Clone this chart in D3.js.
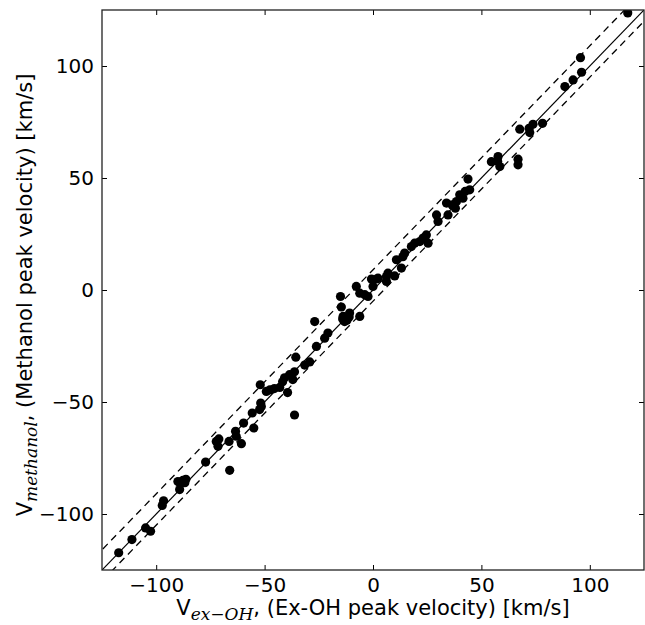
<!DOCTYPE html>
<html>
<head>
<meta charset="utf-8">
<script src="https://cdn.jsdelivr.net/npm/d3@7"></script>
<style>
  body { margin: 0; background: white; }
  text { font-family: "DejaVu Sans", sans-serif; }
</style>
</head>
<body>
<div id="viz-container"></div>
<script>
let vizWidth = 645;
let vizHeight = 625;

// Ex-OH peak velocities (km/s)
let xVals = [
  -117.3, -111.2, -104.9, -102.6, -97.2, -96.6, -90, -89.2, -87.7, -86.3, -88.8, -86.8,
  -77.2, -66.1, -72.3, -71.1, -71.5, -66.4, -63.4, -63.1, -60.7, -59.7, -55, -55.7,
  -52.3, -51.8, -52, -49.2, -51.5, -47.6, -45.5, -43, -41.7, -40.8, -38.5, -36.2,
  -37, -39.4, -35.6, -36.2, -31.5, -29.2, -26.1, -26.9, -22.3, -20.8, -15, -14.6,
  -13.8, -13.1, -12.3, -10.8, -6.1, -7.7, -6.1, -3.8, -2.3, -0.7, 1.6, 0,
  2.3, 6.2, 6.9, 6.2, 10, 10.8, 13.1, 13.8, 14.6, 17.7, 19.2, 21.6,
  24.6, 25.4, 23.1, 29.3, 30, 33.9, 34.6, 36.5, 38, 38.5, 40, 41.5,
  43.8, 44.6, 42.5, 54.6, 57.7, 58.5, 57.5, 66.9, 66.9, 67.7, 72, 72.3,
  73.8, 78.2, 88.5, 92.3, 96.2, 95.7, 117.5, -14, -12, -11
];
// methanol peak velocities (km/s)
let yVals = [
  -117.3, -111.4, -106.2, -107.7, -96.2, -94.1, -85.5, -89.1, -85, -84.5, -86.5, -86,
  -76.8, -80.5, -67.6, -66.5, -69.8, -67.6, -63.1, -65.3, -68.6, -59.4, -61.6, -54.9,
  -53.4, -50.5, -42.3, -45.3, -52, -44.6, -44, -43.5, -41, -39.2, -37.8, -36.5,
  -40, -45.8, -30, -55.8, -33.5, -32.1, -25.2, -14.1, -21.5, -19.2, -2.9, -7.6,
  -11.8, -14.1, -12.5, -10.3, -11.8, 1.6, -1.4, -2.1, -2.9, 4.9, 4.9, 1.6,
  5.3, 6, 7.5, 3.8, 6.3, 13.5, 9.8, 14.9, 16.5, 19.4, 20.9, 21.6,
  24.6, 20.9, 23.2, 33.5, 30.6, 38.8, 33.5, 38, 36.5, 39.5, 42.5, 41,
  49.5, 44.7, 44, 57.3, 59.6, 55.1, 57.5, 58.4, 55.9, 71.8, 72.2, 70.3,
  74, 74.4, 90.8, 93.8, 97.2, 103.7, 123.7, -13, -13.5, -12
];

let tickValues = [-100, -50, 0, 50, 100];
let axisDomain = [-125, 125];
let bandCentre = 2;   // dashed lines: y = x + 2 +/- 7
let bandHalf = 7;

let margin = {left: 102, right: 1, top: 10, bottom: 55};
let plotW = vizWidth - margin.left - margin.right;
let plotH = vizHeight - margin.top - margin.bottom;

let viz = d3.select("#viz-container")
    .append("svg")
        .attr("width", vizWidth)
        .attr("height", vizHeight)
        .style("background-color", "white");

let xScale = d3.scaleLinear().domain(axisDomain).range([margin.left, margin.left + plotW]);
let yScale = d3.scaleLinear().domain(axisDomain).range([margin.top + plotH, margin.top]);

let defs = viz.append("defs");
defs.append("clipPath").attr("id", "plotclip")
    .append("rect")
        .attr("x", margin.left).attr("y", margin.top)
        .attr("width", plotW).attr("height", plotH);

let plot = viz.append("g").attr("clip-path", "url(#plotclip)");

// one-to-one line and dashed band
let lineGen = d3.line().x(d => xScale(d[0])).y(d => yScale(d[1]));
plot.append("path")
    .attr("d", lineGen([[-130, -130], [130, 130]]))
    .attr("stroke", "black").attr("stroke-width", 1.2).attr("fill", "none");
[bandCentre + bandHalf, bandCentre - bandHalf].forEach(function(off){
  plot.append("path")
      .attr("d", lineGen([[-140, -140 + off], [140, 140 + off]]))
      .attr("stroke", "black").attr("stroke-width", 1.3)
      .attr("stroke-dasharray", "7,5").attr("fill", "none");
});

// points
plot.selectAll(".pt").data(xVals).enter().append("circle")
    .attr("class", "pt")
    .attr("cx", d => xScale(d))
    .attr("cy", (d, i) => yScale(yVals[i]))
    .attr("r", 4.6)
    .attr("fill", "black");

// axes, ticks pointing inward on all four sides
function styleAxis(g) {
  g.select(".domain").remove();
  g.selectAll("line").attr("stroke", "black");
  g.selectAll("text").attr("font-size", 20).attr("font-family", "DejaVu Sans").attr("fill", "black");
}
let fmt = d => d < 0 ? "\u2212" + Math.abs(d) : String(d);

viz.append("g").attr("transform", "translate(0," + (margin.top + plotH) + ")")
    .call(d3.axisBottom(xScale).tickValues(tickValues).tickSize(-5).tickPadding(8).tickFormat(fmt))
    .call(styleAxis);
viz.append("g").attr("transform", "translate(0," + margin.top + ")")
    .call(d3.axisTop(xScale).tickValues(tickValues).tickSize(-5).tickFormat(""))
    .call(styleAxis);
viz.append("g").attr("transform", "translate(" + margin.left + ",0)")
    .call(d3.axisLeft(yScale).tickValues(tickValues).tickSize(-5).tickPadding(8).tickFormat(fmt))
    .call(styleAxis);
viz.append("g").attr("transform", "translate(" + (margin.left + plotW) + ",0)")
    .call(d3.axisRight(yScale).tickValues(tickValues).tickSize(-5).tickFormat(""))
    .call(styleAxis);

// frame
viz.append("rect")
    .attr("x", margin.left).attr("y", margin.top)
    .attr("width", plotW).attr("height", plotH)
    .attr("fill", "none").attr("stroke", "#222").attr("stroke-width", 1.3);

// axis labels with math subscripts
let xl = viz.append("text")
    .attr("x", margin.left + plotW / 2).attr("y", 615)
    .attr("text-anchor", "middle").attr("font-size", 21);
xl.append("tspan").text("V");
xl.append("tspan").attr("dy", 5).attr("font-family", "DejaVu Serif")
    .attr("font-style", "italic").attr("font-size", 17).text("ex\u2212OH");
xl.append("tspan").attr("dy", -5).text(", (Ex-OH peak velocity) [km/s]");

let yl = viz.append("text")
    .attr("transform", "translate(32," + (margin.top + plotH / 2 + 5) + ") rotate(-90)")
    .attr("text-anchor", "middle").attr("font-size", 21);
yl.append("tspan").text("V");
yl.append("tspan").attr("dy", 5).attr("font-family", "DejaVu Serif")
    .attr("font-style", "italic").attr("font-size", 17).text("methanol");
yl.append("tspan").attr("dy", -5).text(", (Methanol peak velocity) [km/s]");
</script>
</body>
</html>
